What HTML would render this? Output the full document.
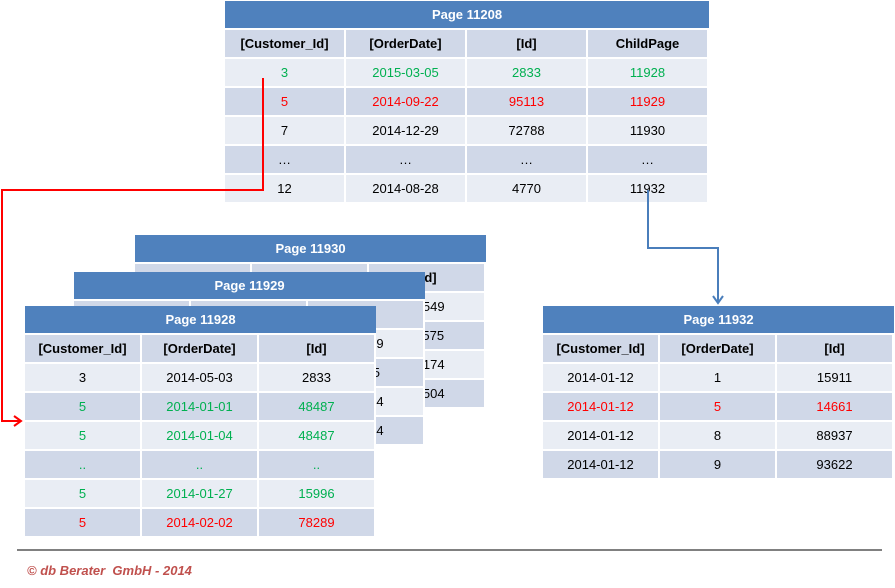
<!DOCTYPE html>
<html><head><meta charset="utf-8"><style>
html,body{margin:0;padding:0;background:#fff;}
body{width:895px;height:588px;position:relative;overflow:hidden;font-family:"Liberation Sans",sans-serif;}
.c{position:absolute;box-sizing:border-box;display:flex;align-items:center;justify-content:center;font-size:13px;color:#000;border-right:2px solid #fff;border-bottom:2px solid #fff;white-space:nowrap;overflow:hidden;}
.t{position:absolute;box-sizing:border-box;background:#4F81BD;color:#fff;font-weight:bold;font-size:13px;display:flex;align-items:center;justify-content:center;border-bottom:2px solid #fff;}
.h{font-weight:bold;}
</style></head><body>
<svg width="895" height="588" style="position:absolute;left:0;top:0;z-index:5;pointer-events:none">
<polyline points="263,78 263,190 2,190 2,421 20,421" fill="none" stroke="#FF0000" stroke-width="2"/>
<polyline points="14,416 21,421 14,426" fill="none" stroke="#FF0000" stroke-width="2"/>
<polyline points="648,190 648,248 718,248 718,302" fill="none" stroke="#4A7EBB" stroke-width="2"/>
<polyline points="713,296 718,303 723,296" fill="none" stroke="#4A7EBB" stroke-width="2"/>
<line x1="17" y1="550" x2="882" y2="550" stroke="#000" stroke-width="1"/>
</svg>
<div style="position:absolute;left:27px;top:563px;font-size:13px;font-style:italic;font-weight:bold;color:#C0504D">© db Berater &nbsp;GmbH - 2014</div>
<script>
const G='#00B050',R='#FF0000',K='#000';
function table(name,x,y,cw,rows,colors,z){
  const wrap=document.createElement('div');
  
  
  wrap.style.cssText='position:absolute;left:'+x+'px;top:'+y+'px;z-index:'+z+';';
  const W=cw*rows[1].length;
  const t=document.createElement('div');
  t.className='t';
  
  
  t.style.cssText='left:0;top:0;width:'+W+'px;height:29px;';
  t.textContent=rows[0];
  wrap.appendChild(t);
  for(let r=1;r<rows.length;r++){
    for(let c=0;c<rows[r].length;c++){
      const d=document.createElement('div');
      d.className='c'+(r==1?' h':'');
      
      
      const bg=(r==1||r%2==1)?'#D0D8E8':'#E9EDF4';
      d.style.cssText+='left:'+(c*cw)+'px;top:'+(29+(r-1)*29)+'px;width:'+cw+'px;height:29px;background:'+bg+';color:'+(colors[r]||K)+';';
      d.textContent=rows[r][c];
      wrap.appendChild(d);
    }
  }
  document.body.appendChild(wrap);
}
table('page-11208-table',225,1,121,['Page 11208',['[Customer_Id]','[OrderDate]','[Id]','ChildPage'],['3','2015-03-05','2833','11928'],['5','2014-09-22','95113','11929'],['7','2014-12-29','72788','11930'],['…','…','…','…'],['12','2014-08-28','4770','11932']],{2:G,3:R},1);
table('page-11930-table',135,235,117,['Page 11930',['','','[Id]'],['','','34549'],['','','11575'],['','','65174'],['','','38504']],{},1);
table('page-11929-table',74,272,117,['Page 11929',['','','[Id]'],['','','52149'],['','','8765'],['','','31474'],['','','60304']],{},2);
table('page-11928-table',25,306,117,['Page 11928',['[Customer_Id]','[OrderDate]','[Id]'],['3','2014-05-03','2833'],['5','2014-01-01','48487'],['5','2014-01-04','48487'],['..','..','..'],['5','2014-01-27','15996'],['5','2014-02-02','78289']],{3:G,4:G,5:G,6:G,7:R},3);
table('page-11932-table',543,306,117,['Page 11932',['[Customer_Id]','[OrderDate]','[Id]'],['2014-01-12','1','15911'],['2014-01-12','5','14661'],['2014-01-12','8','88937'],['2014-01-12','9','93622']],{3:R},3);
</script>
</body></html>
